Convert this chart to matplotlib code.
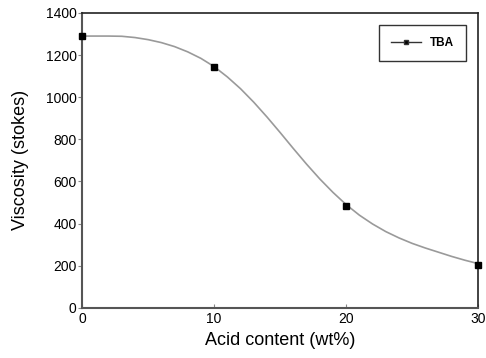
import numpy as np
import matplotlib
matplotlib.use("Agg")
import matplotlib.pyplot as plt
from matplotlib.lines import Line2D

plt.rcParams['font.family'] = ['Liberation Sans', 'DejaVu Sans']

# measured points
acid = [0, 10, 20, 30]
visc = [1290, 1145, 485, 205]

# smooth curve
curve_x = list(range(0, 31))
curve_y = [1290, 1290, 1290, 1289, 1283, 1273, 1259, 1240, 1215, 1184,
           1145, 1096, 1040, 976, 906, 832, 756, 682, 612, 548,
           490, 440, 398, 362, 332, 306, 284, 264, 244, 226, 210]

fig, ax = plt.subplots(figsize=(4.86, 3.58), dpi=100)
fig.subplots_adjust(left=0.169, right=0.984, top=0.964, bottom=0.14)

ax.plot(curve_x, curve_y, color='#9a9a9a', lw=1.2, clip_on=False)
ax.plot(acid, visc, ls='none', marker='s', ms=5, color='black', clip_on=False, zorder=3)

ax.set_xlim(0, 30)
ax.set_ylim(0, 1400)
ax.set_xticks([0, 10, 20, 30])
ax.set_yticks(range(0, 1401, 200))
ax.tick_params(axis='both', labelsize=10, length=3, width=0.8, color='#888888')
ax.tick_params(axis='x', direction='in', pad=3)
ax.tick_params(axis='y', direction='out', pad=1)

for side in ['left', 'bottom']:
    ax.spines[side].set_color('#555555')
    ax.spines[side].set_linewidth(1.5)
for side in ['top', 'right']:
    ax.spines[side].set_color('#222222')
    ax.spines[side].set_linewidth(1.2)

ax.set_xlabel('Acid content (wt%)', fontsize=13, labelpad=4)
ax.set_ylabel('Viscosity (stokes)', fontsize=13, labelpad=12)

handle = Line2D([], [], color='#333333', lw=1, marker='s', ms=3.5, markerfacecolor='black')
leg = ax.legend([handle], ['TBA'], loc='upper right', bbox_to_anchor=(0.968, 0.958),
                fancybox=False, edgecolor='black', handlelength=2.6,
                prop={'size': 8.5, 'weight': 'bold'}, borderpad=1.0, handletextpad=0.7,
                borderaxespad=0)
leg.get_frame().set_linewidth(1.0)

fig.savefig('out.png', dpi=100)
